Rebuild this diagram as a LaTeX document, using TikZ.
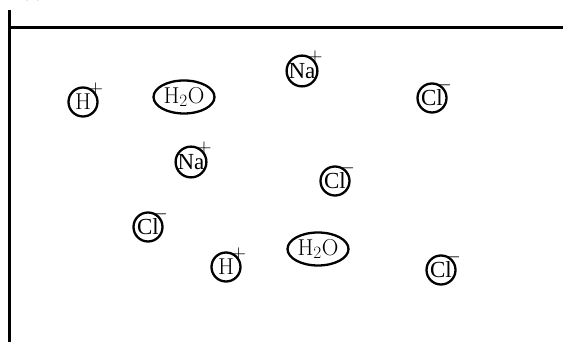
\documentclass[tikz,border=0pt]{standalone}
\usepackage{fontspec}
\newfontfamily\tnr{Liberation Serif}
\newfontfamily\cjk{Noto Sans CJK JP}
\usetikzlibrary{shapes.geometric}
\begin{document}
\begin{tikzpicture}[x=1pt,y=1pt,
  ion/.style={circle,draw,line width=2.3pt,minimum size=29pt,inner sep=0pt,font=\fontsize{23}{23}\selectfont},
  mol/.style={ellipse,draw,line width=2.3pt,minimum width=61pt,minimum height=33pt,inner sep=0pt,font=\fontsize{23}{23}\selectfont},
  poscharge/.style={label={[inner sep=0pt,label distance=-8pt,font=\fontsize{20}{20}\selectfont]50:$+$}},
  negcharge/.style={label={[inner sep=0pt,label distance=-9pt,font=\fontsize{20}{20}\selectfont]56:$-$}},
  frame/.style={line width=3pt},
  toptext/.style={inner sep=0pt,anchor=base west,font=\fontsize{18}{18}\selectfont}]
\useasboundingbox (0,0) rectangle (564,342);
\begin{scope}
  \clip (0,0) rectangle (564,342);
  \node[toptext] (t1) at (22,345) {(1)};
  \node[toptext] (t2) at (108,345) {\cjk —1)，図};
\end{scope}
\coordinate (vtop) at (9,332);
\coordinate (vbot) at (9,0);
\coordinate (hl) at (9,314);
\coordinate (hr) at (563,314);
\draw[frame] (vtop) -- (vbot);
\draw[frame] (hl) -- (hr);
% ions and molecules
\node[ion,poscharge] (h1) at (83,240) {H};
\node[mol] (w1) at (184,245) {H$_2$O};
\node[ion,poscharge] (na1) at (302,271) {\tnr Na};
\node[ion,negcharge] (cl1) at (432,244) {\tnr Cl};
\node[ion,poscharge] (na2) at (191,180) {\tnr Na};
\node[ion,negcharge] (cl2) at (335,161) {\tnr Cl};
\node[ion,negcharge] (cl3) at (148,115) {\tnr Cl};
\node[ion,poscharge] (h2) at (226,75) {H};
\node[mol] (w2) at (318,93) {H$_2$O};
\node[ion,negcharge] (cl4) at (441,72) {\tnr Cl};
\end{tikzpicture}
\end{document}
